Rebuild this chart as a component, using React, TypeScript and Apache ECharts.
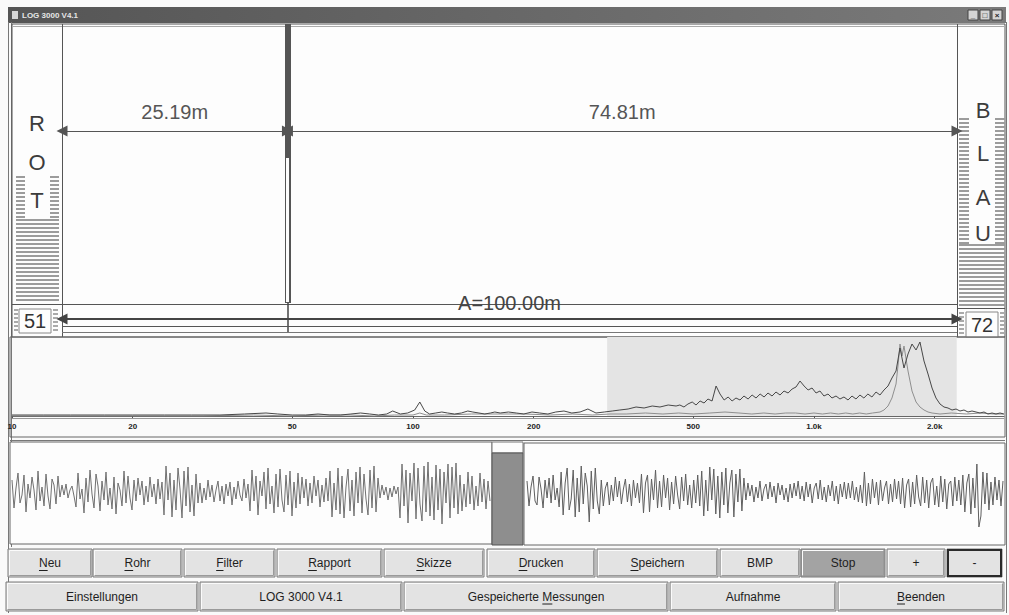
import React, { useEffect, useRef } from "react";
import * as echarts from "echarts";

// ---------------- data ----------------
const titleText = "LOG 3000 V4.1";
const pipeLength = 100.0;
const leakDistance = 25.19;
const sensorNames = ["ROT", "BLAU"];
const sensorLevels = [51, 72];

const freqTicks = [10, 20, 50, 100, 200, 500, 1000, 2000];
const freqTickLabels = ["10", "20", "50", "100", "200", "500", "1.0k", "2.0k"];
const highlightBandHz = [305, 2270];

const darkFreq = [
  10, 12, 14, 17, 20, 24, 28, 33, 38, 43, 46, 50, 54, 58, 62, 66, 70, 74, 78, 82, 86, 89, 93, 97, 101, 104, 107, 110, 114, 118, 122, 127, 132, 137, 141, 146, 151, 156, 160,
  165, 173, 181, 189, 198, 207, 217, 227, 238, 249, 261, 273, 286, 300, 314, 328, 344, 360, 377, 395, 413, 433, 453,
  463, 474, 485, 497, 508, 520, 532, 544, 557, 570, 583, 597, 611, 625, 639, 654, 669, 685, 701, 717, 734, 751, 768, 786, 804, 823, 842, 862, 882, 902, 923, 945, 967, 989, 1012, 1035, 1059, 1084, 1109, 1135, 1161, 1188, 1216, 1244, 1273, 1302, 1332, 1363, 1395, 1428, 1461, 1495, 1530, 1565, 1602, 1639, 1677, 1716, 1756, 1797, 1838, 1881, 1925, 1970, 2015, 2062, 2110, 2159, 2210, 2261, 2313, 2367, 2422, 2478, 2536, 2594, 2655, 2716, 2780, 2844, 2910, 2975,
];
const darkLevel = [
  1, 1, 1, 1, 1, 1, 1, 1, 2, 3, 2, 1, 1, 2, 1, 1, 2, 3, 2, 1, 2, 5, 2, 3, 6, 14, 5, 2, 3, 4, 3, 2, 3, 5, 4, 3, 2, 3, 4,
  3, 4, 3, 2, 4, 3, 2, 4, 5, 3, 4, 7, 3, 4, 5, 6, 7, 9, 8, 10, 9, 11, 10,
  11, 9, 12, 14, 11, 15, 13, 17, 15, 30, 22, 16, 19, 15, 18, 16, 20, 17, 21, 18, 22, 19, 23, 20, 24, 21, 25, 23, 27, 29, 35, 30, 26, 28, 23, 25, 20, 22, 18, 20, 17, 19, 16, 20, 17, 21, 18, 22, 19, 24, 21, 26, 30, 38, 45, 68, 48, 62, 72, 66, 74, 55, 42, 28, 18, 12, 9, 8, 6, 7, 5, 6, 4, 5, 4, 3, 4, 2, 3, 2, 3, 2,
];
const lightFreq = [
  10, 20, 30, 40, 50, 60, 70, 80, 90, 100, 104, 108, 120, 140, 165, 190, 220, 250, 280, 310, 340, 380, 420, 460, 500, 550, 600, 650, 700, 750, 800, 850, 900, 950, 1000, 1050, 1100, 1150, 1200, 1250, 1300, 1350, 1400, 1461, 1495, 1530, 1565, 1602, 1620, 1639, 1658, 1677, 1716, 1756, 1797, 1838, 1881, 1925, 1970, 2062, 2200, 2400, 2600, 2800, 2975,
];
const lightLevel = [
  0, 0, 0, 1, 0, 1, 1, 0, 1, 1, 3, 1, 1, 2, 2, 2, 1, 2, 1, 2, 2, 3, 2, 3, 2, 3, 4, 3, 2, 3, 2, 3, 3, 2, 3, 2, 3, 2, 3, 2, 3, 2, 3, 4, 6, 10, 18, 32, 50, 72, 60, 70, 45, 25, 14, 9, 6, 4, 3, 2, 3, 2, 3, 2, 2,
];

const waveLeft = [
  12, -16, 4, 19, -11, -3, 17, -20, 8, -6, 15, 2, -18, 21, -9, 5, -14, 18, -4, -17, 13, 7, -12, 16,
  -5, 7, -3, 8, -6, 2, 6, -4,
  -15, 19, -7, 3, -21, 14, -10, 22, -2, -16, 18, 6, -19, 11, -8, 20, -13, 4, -17, 15, -22, 9, 2, -14, 21, -11, 16, -6, -18, 12,
  -9, 14, -3, 11, -13, 6, -10, 15, -5, 8, -12, 13, -7, 10,
  -23, 26, -8, 19, -25, 12, -18, 24, 3, -26, 21, -14, 25, -20, 7, -24, 18, -11,
  9, -11, 4, -8, 12, -5, 7, -10, 2, 11, -9, 6, -12, 8, -4, 10, -13, 5, -7, 11, -3, -9, 13, -6, 8,
  -19, 22, -9, 16, -23, 11, -4, 20, -17, 24, -12, 6, -21, 18, -15, 23, -8, -20, 17, -13, 21, -24, 10, -16, 19,
  -12, 15, -6, 13, -14, 9, -11, 16, -4, 12, -15, 7, -10, 14, -9,
  21, -25, 9, -18, 24, -22, 16, -26, 5, 23, -19, 12, -24, 20, -11, 25, -21, 18, -7, -23, 22, -16, 26, -20, 14,
  -6, 7, -3, 5, -8, 4, -5, 6, -2, 5,
  -26, 28, -14, 22, -31, 19, -9, 29, -27, 24, -12, -29, 26, -20, 30, -24, 15, -28, 27, -18, 23, -32, 20, -11, 28, -26, 25, -16, 29, -22,
  17, -19, 8, -15, 20, -12, 16, -18, 6, -14, 19, -10, 13, -17, 11, -9,
];
const waveRight = [
  11, -14, 5, 16, -9, -13, 15, 3, -16, 12, -6, 14, -11, 17, -8, 4, -15,
  20, -23, 9, 24, -18, -7, 22, -25, 14, -20, 26, -12, 19, 6, -30, 21, -17, 24, -9, -22,
  12, -14, 4, 10, -13, 7, -9, 15, -5, 11, -12, 3, 13, -10, 8, -14, 12, -6, 9, -11,
  18, -21, 9, 17, -20, 13, -8, 22, -16, 11,
  -15, 17, -6, 14, -18, 10, -12, 16, -3, -17, 15, -9, 18, -13, 7, -16, 12, -11, 17, -14,
  21, -24, 12, -19, 25, -8, 23, -22, 16, -26, 20, -13, 24, -21, 9, 22, -25, 18, -10, 23, -19, 14,
  -8, 9, -4, 7, -10, 5, -6, 11, -9, 3, 8, -7, 10, -5, 6, -11, 9, -3, 7, -8, 4, -10, 8, -6, 9, -4, 11, -7,
  6, -9, 10, -5, 8, -11, 4, 9, -7, 12, -8, 5, -10, 7, -4, 11, -9, 6, -12, 8, -5, 10, -7, 9, -6, 11, -8, 5, -10, 7,
  -11, 20, -14, 9, -12, 13, -6, 10, -13, 12, -9, 4, 11, -12, 8, -10, 13, -7, 11, -12,
  14, -16, 7, 13, -15, 10, -12, 17, -5, -14, 15, -11, 12, -16, 9, 14, -13, 6, -15, 16, -10, 13, -17, 8, 11, -14, 15, -9, 12, -13,
  17, -20, 9, 18, -22, 14, -16, 28, -35, -24, 20, -12, 19, -18, 10,
  -13, 15, -8, 12, -14, 11,
];

const buttonsRow1 = ["Neu", "Rohr", "Filter", "Rapport", "Skizze", "Drucken", "Speichern", "BMP", "Stop", "+", "-"];
const mnemonicRow1 = [0, 0, 0, 0, 0, 0, 0, -1, -1, -1, -1];
const buttonsRow2 = ["Einstellungen", "LOG 3000 V4.1", "Gespeicherte Messungen", "Aufnahme", "Beenden"];
const mnemonicRow2 = [-1, -1, 13, -1, 0];

// ---------------- layout ----------------
const row1Edges = [[8, 92], [93, 182], [184, 275], [277, 382], [384, 484], [487, 595], [597, 718], [720, 800], [801, 885], [887, 945], [947, 1002]];
const row2Edges = [[6, 198], [200, 402], [404, 668], [670, 836], [838, 1004]];

export default function App() {
  const ref = useRef<HTMLDivElement>(null);

  useEffect(() => {
    if (!ref.current) return;
    const chart = echarts.init(ref.current, null, { renderer: "svg" });
    const FONT = '"Liberation Sans", Arial, Helvetica, sans-serif';
    const canvas = document.createElement("canvas");
    const ctx = canvas.getContext("2d") as CanvasRenderingContext2D;
    ctx.font = '12px "Liberation Sans", Arial, sans-serif';
    const mw = (s: string) => ctx.measureText(s).width;

    const g: any[] = [];
    const R = (x: number, y: number, w: number, h: number, style: any, z = 0) =>
      g.push({ type: "rect", shape: { x, y, width: w, height: h }, style, z, silent: true });
    const L = (x1: number, y1: number, x2: number, y2: number, stroke = "#666", lineWidth = 1, z = 0) =>
      g.push({ type: "line", shape: { x1, y1, x2, y2 }, style: { stroke, lineWidth }, z, silent: true });
    const T = (x: number, y: number, text: string, size: number, fill = "#333", weight = "normal", z = 1) =>
      g.push({
        type: "text", x, y, z, silent: true,
        style: { text, font: `${weight} ${size}px ${FONT}`, fill, align: "center", verticalAlign: "middle", textAlign: "center", textVerticalAlign: "middle" },
      });

    // title bar
    R(8, 7, 998, 16, { fill: new echarts.graphic.LinearGradient(0, 0, 1, 0, [{ offset: 0, color: "#555" }, { offset: 1, color: "#7a7a7a" }]) });
    R(12, 11, 6, 8, { fill: "#d8d8d8" });
    g.push({ type: "text", x: 22, y: 15, silent: true, z: 1, style: { text: titleText, font: `bold 8px ${FONT}`, fill: "#e6e6e6", align: "left", verticalAlign: "middle", textVerticalAlign: "middle" } });
    [968, 980, 992].forEach((bx, i) => {
      R(bx, 10, 10, 10, { fill: "#d4d4d4", stroke: "#444", lineWidth: 1 });
      T(bx + 5, 15, ["_", "□", "×"][i], 8, "#222", "bold");
    });

    // window borders
    L(8.5, 22, 8.5, 613, "#777");
    L(11.5, 22, 11.5, 547, "#777");
    L(1006.5, 22, 1006.5, 613, "#777");

    // top panel
    R(12, 24, 993, 313, { fill: "#fdfdfd", stroke: "#555", lineWidth: 1 });
    L(12, 26.5, 1005, 26.5, "#aaa");
    L(62.5, 24, 62.5, 337, "#555");
    L(957.5, 24, 957.5, 337, "#555");
    L(12, 304.5, 62, 304.5, "#555");
    L(957, 308.5, 1005, 308.5, "#555");

    // level stripes ROT
    for (let y = 176; y < 217; y += 4) { R(16, y, 9, 2, { fill: "#9c9c9c" }); R(50, y, 9, 2, { fill: "#9c9c9c" }); }
    for (let y = 219; y < 301; y += 4) R(16, y, 43, 2, { fill: "#9c9c9c" });
    // level stripes BLAU
    for (let y = 118; y < 243; y += 4) { R(959, y, 10, 2, { fill: "#9c9c9c" }); R(995, y, 10, 2, { fill: "#9c9c9c" }); }
    for (let y = 244; y < 307; y += 4) R(959, y, 46, 2, { fill: "#9c9c9c" });

    const rotLetters = sensorNames[0].split("");
    const rotY = [123, 162, 200];
    rotLetters.forEach((c, i) => T(37, rotY[i], c, 22, "#3c3c3c"));
    const blauLetters = sensorNames[1].split("");
    const blauY = [110, 153, 197, 233];
    blauLetters.forEach((c, i) => T(983, blauY[i], c, 22, "#3c3c3c"));

    // level boxes
    for (let y = 309; y < 333; y += 4) { R(14, y, 4, 2, { fill: "#aaa" }); R(53, y, 5, 2, { fill: "#aaa" }); }
    R(19, 309, 32, 24, { fill: "#fdfdfd", stroke: "#888", lineWidth: 1 });
    T(35, 321, String(sensorLevels[0]), 20, "#333");
    for (let y = 312; y < 336; y += 4) { R(959, y, 5, 2, { fill: "#aaa" }); R(1000, y, 5, 2, { fill: "#aaa" }); }
    R(966, 312, 32, 25, { fill: "#fdfdfd", stroke: "#888", lineWidth: 1 });
    T(982, 325, String(sensorLevels[1]), 20, "#333");

    // spectrum panel
    R(10, 337, 995, 100, { fill: "none", stroke: "#666", lineWidth: 1 });
    L(12, 418.5, 1004, 418.5, "#999");
    L(10, 440.5, 1005, 440.5, "#777");

    // waveform panels
    R(10, 442, 482, 102, { fill: "#fdfdfd", stroke: "#666", lineWidth: 1 });
    R(492, 442, 31, 11, { fill: "#fdfdfd", stroke: "#777", lineWidth: 1 });
    R(492, 453, 31, 92, { fill: "#8e8e8e", stroke: "#555", lineWidth: 1 });
    R(524, 443, 481, 102, { fill: "#fdfdfd", stroke: "#666", lineWidth: 1 });

    // buttons
    const drawButton = (x1: number, x2: number, y1: number, y2: number, label: string, mn: number, fill = "#e3e3e3", thick = false) => {
      R(x1, y1, x2 - x1, y2 - y1, { fill, stroke: "#7a7a7a", lineWidth: 1 });
      L(x1 + 1.5, y1 + 1.5, x2 - 1.5, y1 + 1.5, "#fbfbfb");
      L(x1 + 1.5, y1 + 1.5, x1 + 1.5, y2 - 1.5, "#fbfbfb");
      L(x1 + 1.5, y2 - 1.5, x2 - 1.5, y2 - 1.5, "#9a9a9a");
      L(x2 - 1.5, y1 + 1.5, x2 - 1.5, y2 - 1.5, "#9a9a9a");
      if (thick) R(x1 + 1, y1 + 1, x2 - x1 - 2, y2 - y1 - 2, { fill: "none", stroke: "#2a2a2a", lineWidth: 2 });
      const cx = (x1 + x2) / 2, cy = (y1 + y2) / 2;
      T(cx, cy, label, 12, "#1e1e1e");
      if (mn >= 0) {
        const tw = mw(label);
        const sx = cx - tw / 2 + mw(label.slice(0, mn));
        L(sx, cy + 7.5, sx + mw(label[mn]), cy + 7.5, "#1e1e1e", 1, 2);
      }
    };
    buttonsRow1.forEach((b, i) => {
      const [a, c] = row1Edges[i];
      drawButton(a, c, 549, 577, b, mnemonicRow1[i], b === "Stop" ? "#a3a3a3" : "#e3e3e3", b === "-");
    });
    buttonsRow2.forEach((b, i) => {
      const [a, c] = row2Edges[i];
      drawButton(a, c, 582, 611, b, mnemonicRow2[i]);
    });

    const tickLabel = (v: number) => {
      let best = 0, bd = Infinity;
      freqTicks.forEach((t, i) => { const d = Math.abs(Math.log(v / t)); if (d < bd) { bd = d; best = i; } });
      return freqTickLabels[best];
    };

    // distance grid y: pixel offset from top 24
    const dy = (py: number) => py - 24;
    const arrowLabel = (text: string, dist: number, color = "#555") => ({
      show: true, formatter: text, position: "insideMiddleTop", distance: dist,
      fontSize: 20, fontFamily: FONT, color,
    });

    const option: any = {
      animation: false,
      backgroundColor: "#fafafa",
      graphic: { elements: g },
      grid: [
        { left: 62, right: 52, top: 24, height: 309 },
        { left: 12, right: 5, top: 337, height: 79 },
        { left: 12, width: 478, top: 447, height: 90 },
        { left: 527, width: 476, top: 447, height: 90 },
      ],
      xAxis: [
        { gridIndex: 0, type: "value", min: 0, max: pipeLength, show: false },
        {
          gridIndex: 1, type: "log", logBase: 10, min: 10, max: 2978,
          axisLine: { show: true, lineStyle: { color: "#666", width: 1 } },
          axisTick: { show: true, customValues: freqTicks, length: 2, lineStyle: { color: "#555" } },
          minorTick: { show: false },
          splitLine: { show: false },
          axisLabel: {
            customValues: freqTicks, formatter: (v: number) => tickLabel(v),
            fontSize: 8, fontWeight: "bold", color: "#222", margin: 6, fontFamily: FONT,
          },
        },
        { gridIndex: 2, type: "category", boundaryGap: false, data: waveLeft.map((_, i) => i), show: false },
        { gridIndex: 3, type: "category", boundaryGap: false, data: waveRight.map((_, i) => i), show: false },
      ],
      yAxis: [
        { gridIndex: 0, type: "value", min: 0, max: 309, inverse: true, show: false },
        { gridIndex: 1, type: "value", min: 0, max: 79, show: false },
        { gridIndex: 2, type: "value", min: -45, max: 45, show: false },
        { gridIndex: 3, type: "value", min: -45, max: 45, show: false },
      ],
      series: [
        {
          type: "line", xAxisIndex: 0, yAxisIndex: 0, data: [], silent: true, z: 3,
          markLine: {
            silent: true, animation: false,
            symbol: ["triangle", "triangle"], symbolSize: 11,
            lineStyle: { color: "#555", width: 1.2, type: "solid" },
            label: { show: false },
            emphasis: { disabled: true },
            data: [
              [{ coord: [0, dy(304)], symbol: "none", lineStyle: { color: "#555", width: 1, type: "solid" } }, { coord: [pipeLength, dy(304)], symbol: "none" }],
              [{ coord: [leakDistance, 0], symbol: "none", lineStyle: { color: "#555", width: 6, type: "solid" } }, { coord: [leakDistance, dy(303)], symbol: "none" }],
              [{ coord: [leakDistance, dy(158)], symbol: "none", lineStyle: { color: "#fdfdfd", width: 3, type: "solid" } }, { coord: [leakDistance, dy(302)], symbol: "none" }],
              [{ coord: [leakDistance, dy(303)], symbol: "none", lineStyle: { color: "#444", width: 1.5, type: "solid" } }, { coord: [leakDistance, dy(333)], symbol: "none" }],
              [{ coord: [0, dy(131)], label: arrowLabel(`${leakDistance.toFixed(2)}m`, 9) }, { coord: [leakDistance, dy(131)] }],
              [{ coord: [leakDistance, dy(131)], label: arrowLabel(`${(pipeLength - leakDistance).toFixed(2)}m`, 9) }, { coord: [pipeLength, dy(131)] }],
              [{ coord: [0, dy(319)], lineStyle: { color: "#444", width: 2, type: "solid" }, label: arrowLabel(`A=${pipeLength.toFixed(2)}m`, 6, "#444") }, { coord: [pipeLength, dy(319)] }],
              [{ coord: [0, dy(326)], symbol: "none", lineStyle: { color: "#555", width: 1, type: "solid" } }, { coord: [pipeLength, dy(326)], symbol: "none" }],
              [{ coord: [0, dy(332)], symbol: "none", lineStyle: { color: "#777", width: 1, type: "solid" } }, { coord: [pipeLength, dy(332)], symbol: "none" }],
            ],
          },
        },
        {
          type: "line", xAxisIndex: 1, yAxisIndex: 1, data: [], silent: true, z: 1,
          markArea: {
            silent: true,
            itemStyle: { color: "#e4e4e4" },
            data: [[{ xAxis: highlightBandHz[0] }, { xAxis: highlightBandHz[1] }]],
          },
        },
        {
          name: "light", type: "line", xAxisIndex: 1, yAxisIndex: 1, z: 3,
          data: lightFreq.map((f, i) => [f, lightLevel[i]]),
          showSymbol: false, symbol: "none", lineStyle: { color: "#8e8e8e", width: 1 },
        },
        {
          name: "dark", type: "line", xAxisIndex: 1, yAxisIndex: 1, z: 4,
          data: darkFreq.map((f, i) => [f, darkLevel[i]]),
          showSymbol: false, symbol: "none", lineStyle: { color: "#474747", width: 1 },
        },
        {
          name: "waveLeft", type: "line", xAxisIndex: 2, yAxisIndex: 2, z: 3,
          data: waveLeft, showSymbol: false, symbol: "none", lineStyle: { color: "#707070", width: 1 },
        },
        {
          name: "waveRight", type: "line", xAxisIndex: 3, yAxisIndex: 3, z: 3,
          data: waveRight, showSymbol: false, symbol: "none", lineStyle: { color: "#5f5f5f", width: 1 },
        },
      ],
    };
    chart.setOption(option);
    return () => chart.dispose();
  }, []);

  return <div ref={ref} style={{ position: "absolute", left: 0, top: 0, width: 1009, height: 615 }} />;
}
